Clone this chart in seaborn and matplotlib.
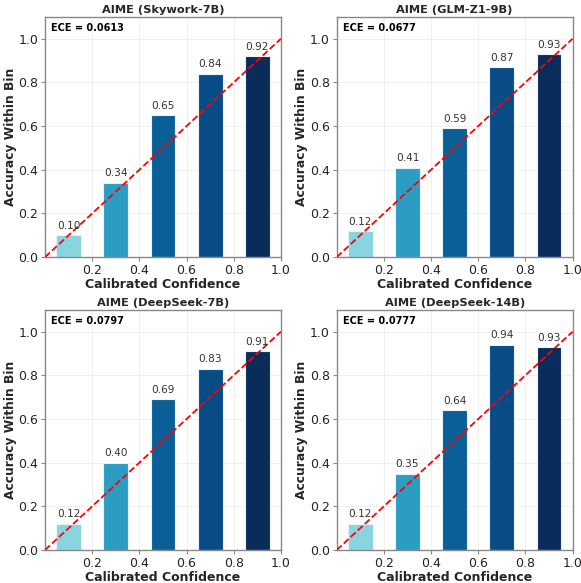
import matplotlib
matplotlib.use("Agg")
import matplotlib.pyplot as plt
import seaborn as sns
import pandas as pd
import numpy as np

sns.set_theme(style="whitegrid")
plt.rcParams['font.family'] = ['DejaVu Sans']

titles = ["AIME (Skywork-7B)", "AIME (GLM-Z1-9B)", "AIME (DeepSeek-7B)", "AIME (DeepSeek-14B)"]
ece_values = ["0.0613", "0.0677", "0.0797", "0.0777"]
bin_centers = [0.1, 0.3, 0.5, 0.7, 0.9]
accuracies = [
    [0.10, 0.34, 0.65, 0.84, 0.92],
    [0.12, 0.41, 0.59, 0.87, 0.93],
    [0.12, 0.40, 0.69, 0.83, 0.91],
    [0.12, 0.35, 0.64, 0.94, 0.93],
]
bar_colors = ["#88d4e1", "#2b9dc3", "#0a5f97", "#084c87", "#0a2c5b"]
x_ticks = [0.2, 0.4, 0.6, 0.8, 1.0]
y_ticks = [0.0, 0.2, 0.4, 0.6, 0.8, 1.0]

fig = plt.figure(figsize=(5.81, 5.83), dpi=100)
positions = [
    [0.0775, 0.559, 0.406, 0.412],
    [0.5795, 0.559, 0.406, 0.412],
    [0.0775, 0.0566, 0.406, 0.412],
    [0.5795, 0.0566, 0.406, 0.412],
]

for i in range(4):
    ax = fig.add_axes(positions[i])
    df = pd.DataFrame({"conf": bin_centers, "acc": accuracies[i], "c": bar_colors})
    ax.bar(df["conf"], df["acc"], width=0.105, color=df["c"], edgecolor="#e8f2f8",
           linewidth=0.8, zorder=2)
    sns.lineplot(x=[0, 1], y=[0, 1], ax=ax, color="red", linestyle="--", linewidth=1.3, zorder=3)
    for xc, a in zip(bin_centers, accuracies[i]):
        ax.text(xc, a + 0.02, f"{a:.2f}", ha="center", va="bottom", fontsize=7.6, color="#333333", zorder=4)
    ax.set_xlim(0, 1)
    ax.set_ylim(0, 1.1)
    ax.set_xticks(x_ticks)
    ax.set_yticks(y_ticks)
    ax.set_xticklabels([f"{t:.1f}" for t in x_ticks], fontsize=9, color="#222222")
    ax.set_yticklabels([f"{t:.1f}" for t in y_ticks], fontsize=9, color="#222222")
    ax.tick_params(axis="both", length=3, width=0.8, color="#888888", pad=2, bottom=True, left=True)
    ax.set_xlabel("Calibrated Confidence", fontsize=9, fontweight="bold", labelpad=1)
    ax.set_ylabel("Accuracy Within Bin", fontsize=8.8, fontweight="bold", labelpad=1)
    ax.set_title(titles[i], fontsize=8.2, fontweight="bold", pad=3)
    ax.text(0.025, 0.975, f"ECE = {ece_values[i]}", transform=ax.transAxes, ha="left", va="top",
            fontsize=7, fontweight="bold", color="black")
    ax.grid(True, color="#eeeeee", linewidth=0.6, zorder=0)
    ax.set_axisbelow(True)
    for s in ax.spines.values():
        s.set_color("#888888")
        s.set_linewidth(1.0)
    ax.set_facecolor("white")

fig.savefig("out.png", dpi=100)
